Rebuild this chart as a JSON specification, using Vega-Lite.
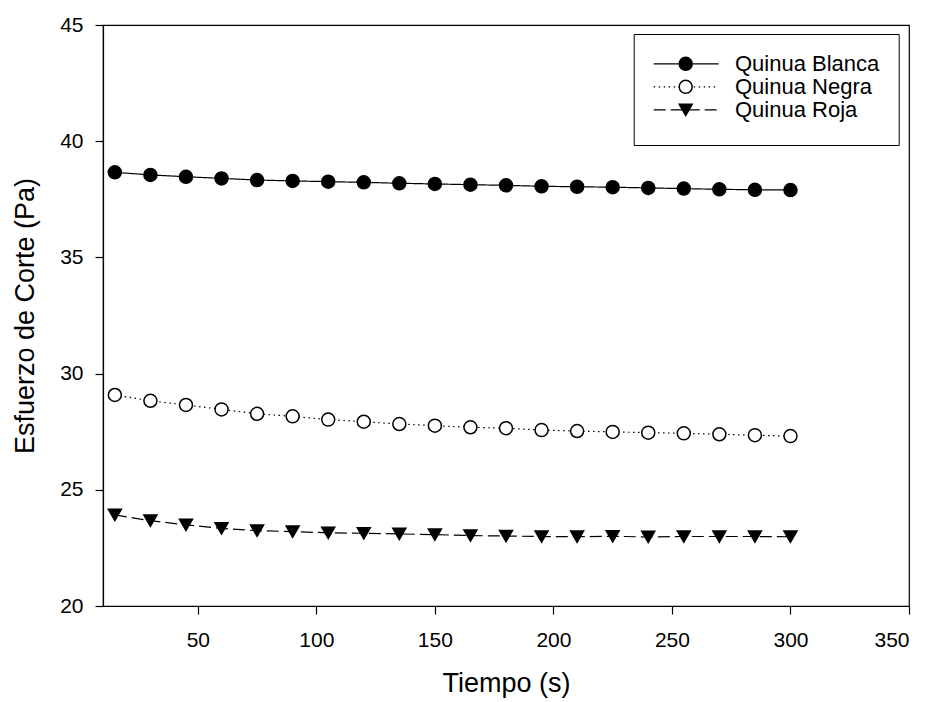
{
  "$schema": "https://vega.github.io/schema/vega-lite/v6.json",
  "width": 806,
  "height": 581,
  "autosize": "none",
  "padding": {"left": 103, "top": 25, "right": 21, "bottom": 96},
  "background": "white",
  "config": {
    "font": "Liberation Sans",
    "view": {"stroke": "black", "strokeWidth": 1.2},
    "axis": {
      "grid": false,
      "domainColor": "black",
      "domainWidth": 1.2,
      "tickColor": "black",
      "tickWidth": 1.2,
      "tickSize": 8,
      "labelFont": "Liberation Sans",
      "labelFontSize": 21,
      "labelColor": "black",
      "titleFont": "Liberation Sans",
      "titleFontSize": 27,
      "titleFontWeight": "normal",
      "titleColor": "black"
    }
  },
  "data": {
    "values": [
      {"t": 15, "series": "Quinua Blanca", "value": 38.66},
      {"t": 30, "series": "Quinua Blanca", "value": 38.55},
      {"t": 45, "series": "Quinua Blanca", "value": 38.47},
      {"t": 60, "series": "Quinua Blanca", "value": 38.40},
      {"t": 75, "series": "Quinua Blanca", "value": 38.33},
      {"t": 90, "series": "Quinua Blanca", "value": 38.29},
      {"t": 105, "series": "Quinua Blanca", "value": 38.26},
      {"t": 120, "series": "Quinua Blanca", "value": 38.23},
      {"t": 135, "series": "Quinua Blanca", "value": 38.19},
      {"t": 150, "series": "Quinua Blanca", "value": 38.16},
      {"t": 165, "series": "Quinua Blanca", "value": 38.13},
      {"t": 180, "series": "Quinua Blanca", "value": 38.10},
      {"t": 195, "series": "Quinua Blanca", "value": 38.06},
      {"t": 210, "series": "Quinua Blanca", "value": 38.04},
      {"t": 225, "series": "Quinua Blanca", "value": 38.02},
      {"t": 240, "series": "Quinua Blanca", "value": 37.99},
      {"t": 255, "series": "Quinua Blanca", "value": 37.96},
      {"t": 270, "series": "Quinua Blanca", "value": 37.93},
      {"t": 285, "series": "Quinua Blanca", "value": 37.91},
      {"t": 300, "series": "Quinua Blanca", "value": 37.90},
      {"t": 15, "series": "Quinua Negra", "value": 29.08},
      {"t": 30, "series": "Quinua Negra", "value": 28.83},
      {"t": 45, "series": "Quinua Negra", "value": 28.65},
      {"t": 60, "series": "Quinua Negra", "value": 28.46},
      {"t": 75, "series": "Quinua Negra", "value": 28.27},
      {"t": 90, "series": "Quinua Negra", "value": 28.16},
      {"t": 105, "series": "Quinua Negra", "value": 28.02},
      {"t": 120, "series": "Quinua Negra", "value": 27.93},
      {"t": 135, "series": "Quinua Negra", "value": 27.83},
      {"t": 150, "series": "Quinua Negra", "value": 27.76},
      {"t": 165, "series": "Quinua Negra", "value": 27.69},
      {"t": 180, "series": "Quinua Negra", "value": 27.65},
      {"t": 195, "series": "Quinua Negra", "value": 27.57},
      {"t": 210, "series": "Quinua Negra", "value": 27.53},
      {"t": 225, "series": "Quinua Negra", "value": 27.49},
      {"t": 240, "series": "Quinua Negra", "value": 27.46},
      {"t": 255, "series": "Quinua Negra", "value": 27.43},
      {"t": 270, "series": "Quinua Negra", "value": 27.39},
      {"t": 285, "series": "Quinua Negra", "value": 27.35},
      {"t": 300, "series": "Quinua Negra", "value": 27.31},
      {"t": 15, "series": "Quinua Roja", "value": 23.92},
      {"t": 30, "series": "Quinua Roja", "value": 23.67},
      {"t": 45, "series": "Quinua Roja", "value": 23.49},
      {"t": 60, "series": "Quinua Roja", "value": 23.34},
      {"t": 75, "series": "Quinua Roja", "value": 23.24},
      {"t": 90, "series": "Quinua Roja", "value": 23.20},
      {"t": 105, "series": "Quinua Roja", "value": 23.15},
      {"t": 120, "series": "Quinua Roja", "value": 23.13},
      {"t": 135, "series": "Quinua Roja", "value": 23.10},
      {"t": 150, "series": "Quinua Roja", "value": 23.07},
      {"t": 165, "series": "Quinua Roja", "value": 23.03},
      {"t": 180, "series": "Quinua Roja", "value": 23.01},
      {"t": 195, "series": "Quinua Roja", "value": 22.99},
      {"t": 210, "series": "Quinua Roja", "value": 22.98},
      {"t": 225, "series": "Quinua Roja", "value": 23.00},
      {"t": 240, "series": "Quinua Roja", "value": 22.97},
      {"t": 255, "series": "Quinua Roja", "value": 22.99},
      {"t": 270, "series": "Quinua Roja", "value": 22.99},
      {"t": 285, "series": "Quinua Roja", "value": 22.99},
      {"t": 300, "series": "Quinua Roja", "value": 22.98}
    ]
  },
  "encoding": {
    "x": {
      "field": "t",
      "type": "quantitative",
      "scale": {"domain": [10, 350], "nice": false, "zero": false},
      "axis": {
        "title": "Tiempo (s)",
        "values": [50, 100, 150, 200, 250, 300, 350],
        "labelPadding": 15,
        "titleY": 85,
        "titleBaseline": "alphabetic"
      }
    },
    "y": {
      "field": "value",
      "type": "quantitative",
      "scale": {"domain": [20, 45], "nice": false, "zero": false},
      "axis": {
        "title": "Esfuerzo de Corte (Pa)",
        "values": [20, 25, 30, 35, 40, 45],
        "labelPadding": 12,
        "titleX": -69.5,
        "titleBaseline": "alphabetic"
      }
    }
  },
  "layer": [
    {
      "mark": {"type": "line", "color": "black", "strokeWidth": 1.2},
      "encoding": {
        "strokeDash": {
          "field": "series",
          "type": "nominal",
          "scale": {"range": [[1, 0], [1.5, 3.5], [12, 5]]},
          "legend": {
            "orient": "none",
            "legendX": 530.7,
            "legendY": 9,
            "title": " ",
            "titleOrient": "bottom",
            "titleFontSize": 4.6,
            "titlePadding": 0,
            "padding": 19,
            "strokeColor": "black",
            "symbolType": "stroke",
            "symbolSize": 4225,
            "symbolStrokeColor": "black",
            "symbolStrokeWidth": 1.2,
            "labelFont": "Liberation Sans",
            "labelFontSize": 22,
            "labelColor": "black",
            "labelOffset": 15.3,
            "clipHeight": 21.7,
            "rowPadding": 0
          }
        }
      }
    },
    {
      "mark": {"type": "point", "filled": true, "stroke": "black", "strokeWidth": 1.5, "size": 169, "opacity": 1},
      "encoding": {
        "shape": {
          "field": "series",
          "type": "nominal",
          "scale": {"domain": ["Quinua Blanca", "Quinua Negra", "Quinua Roja"], "range": ["circle", "circle", "triangle-down"]},
          "legend": {
            "orient": "none",
            "legendX": 530.7,
            "legendY": 9,
            "title": null,
            "padding": 19,
            "symbolSize": 169,
            "symbolStrokeColor": "black",
            "symbolStrokeWidth": 1.5,
            "symbolOpacity": 1,
            "symbolOffset": 22,
            "labelFontSize": 22,
            "labelExpr": "''",
            "clipHeight": 21.7,
            "rowPadding": 0,
            "encode": {
              "symbols": {
                "update": {
                  "stroke": {"value": "black"},
                  "strokeWidth": {"value": 1.5}
                }
              }
            }
          }
        },
        "fill": {
          "field": "series",
          "type": "nominal",
          "scale": {"domain": ["Quinua Blanca", "Quinua Negra", "Quinua Roja"], "range": ["black", "white", "black"]},
          "legend": {
            "orient": "none",
            "legendX": 530.7,
            "legendY": 9,
            "title": null,
            "padding": 19,
            "symbolSize": 169,
            "symbolStrokeColor": "black",
            "symbolStrokeWidth": 1.5,
            "symbolOpacity": 1,
            "symbolOffset": 22,
            "labelFontSize": 22,
            "labelExpr": "''",
            "clipHeight": 21.7,
            "rowPadding": 0,
            "encode": {
              "symbols": {
                "update": {
                  "stroke": {"value": "black"},
                  "strokeWidth": {"value": 1.5}
                }
              }
            }
          }
        }
      }
    }
  ]
}
